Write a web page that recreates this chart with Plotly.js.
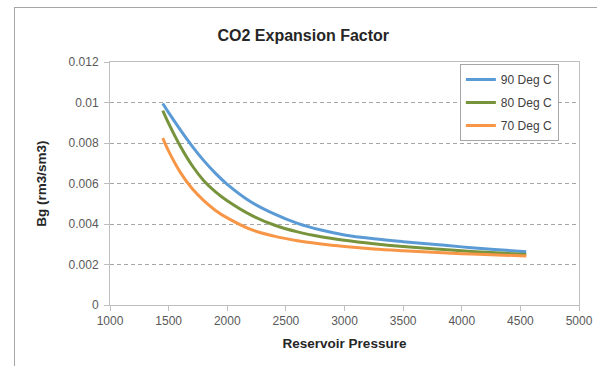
<!DOCTYPE html>
<html>
<head>
<meta charset="utf-8">
<script src="https://cdn.plot.ly/plotly-3.0.1.min.js"></script>
<style>
  html, body { margin: 0; padding: 0; background: #fff; overflow: hidden; }
  #chart { width: 597px; height: 366px; position: absolute; left: 0; top: 0; }
  #frame { position: absolute; left: 14px; top: 7px; width: 700px; height: 500px;
           border-left: 1px solid #a6a6a6; border-top: 1px solid #a6a6a6; pointer-events: none; }
</style>
</head>
<body>
<div id="chart"></div>
<div id="frame"></div>
<script>
// Reservoir pressure values
const pressure = [1450, 1500, 1600, 1700, 1800, 1900, 2000, 2200, 2400, 2600, 2800, 3000, 3250, 3500, 3750, 4000, 4250, 4550];
// Bg (rm3/sm3) per temperature
const bg90 = [0.00995, 0.0095, 0.00865, 0.00785, 0.00713, 0.0065, 0.00596, 0.0051, 0.0045, 0.00403, 0.0037, 0.00346, 0.00327, 0.003125, 0.003, 0.00287, 0.002755, 0.00263];
const bg80 = [0.0096, 0.00897, 0.00784, 0.00689, 0.00614, 0.00559, 0.00515, 0.00445, 0.00395, 0.00361, 0.00337, 0.0032, 0.00303, 0.00289, 0.002775, 0.002675, 0.00259, 0.0025];
const bg70 = [0.00824, 0.0076, 0.00655, 0.00575, 0.00515, 0.00467, 0.0043, 0.00373, 0.0034, 0.00317, 0.00301, 0.00289, 0.00277, 0.00268, 0.0026, 0.002535, 0.00248, 0.00242];
const seriesNames = ['90 Deg C', '80 Deg C', '70 Deg C'];
const yTickVals = [0, 0.002, 0.004, 0.006, 0.008, 0.01, 0.012];
const yTickText = ['0', '0.002', '0.004', '0.006', '0.008', '0.01', '0.012'];
const xTickVals = [1000, 1500, 2000, 2500, 3000, 3500, 4000, 4500, 5000];

const colors = ['#5B9BD5', '#77933C', '#F79646'];
const ys = [bg90, bg80, bg70];

const traces = ys.map((y, i) => ({
  x: pressure, y: y, type: 'scatter', mode: 'lines', name: seriesNames[i],
  legendgroup: 'g' + i,
  line: { color: colors[i], width: 3, shape: 'spline', smoothing: 1 }
}));

const font = "'Liberation Sans', Arial, sans-serif";
const layout = {
  width: 597, height: 366,
  margin: { l: 110, r: 18, t: 62, b: 61 },
  paper_bgcolor: 'rgba(0,0,0,0)', plot_bgcolor: 'rgba(0,0,0,0)',
  font: { family: font, size: 12, color: '#595959' },
  title: { text: '<b>CO2 Expansion Factor</b>', x: 0.508, xref: 'container', xanchor: 'center',
           y: 0.904, yref: 'container', yanchor: 'middle', font: { family: font, size: 16, color: '#262626' } },
  xaxis: {
    range: [1000, 5000], tickvals: xTickVals, ticktext: xTickVals.map(String),
    showgrid: false, zeroline: false, showline: true, mirror: true, linecolor: '#bfbfbf', linewidth: 1,
    ticks: 'outside', ticklen: 5, tickcolor: '#bfbfbf',
    tickfont: { family: font, size: 12, color: '#595959' },
    title: { text: '<b>Reservoir Pressure</b>', standoff: 11, font: { family: font, size: 13.5, color: '#262626' } }
  },
  yaxis: {
    range: [0, 0.012], tickvals: yTickVals, ticktext: yTickText,
    showgrid: true, gridcolor: '#a6a6a6', griddash: '4px,3px', gridwidth: 1,
    zeroline: false, showline: true, mirror: true, linecolor: '#bfbfbf', linewidth: 1,
    ticks: 'outside', ticklen: 5, tickcolor: '#bfbfbf',
    tickfont: { family: font, size: 12, color: '#595959' },
    ticklabelstandoff: 3,
    title: { text: '<b>Bg (rm3/sm3)</b>', standoff: 18, font: { family: font, size: 13.5, color: '#262626' } }
  },
  legend: {
    x: 0.746, xanchor: 'left', y: 0.992, yanchor: 'top',
    bgcolor: '#ffffff', bordercolor: '#a6a6a6', borderwidth: 1,
    font: { family: font, size: 12, color: '#404040' },
    tracegroupgap: 4, entrywidth: 70
  },
  showlegend: true
};

Plotly.newPlot('chart', traces, layout, { staticPlot: true, displayModeBar: false });
</script>
</body>
</html>
